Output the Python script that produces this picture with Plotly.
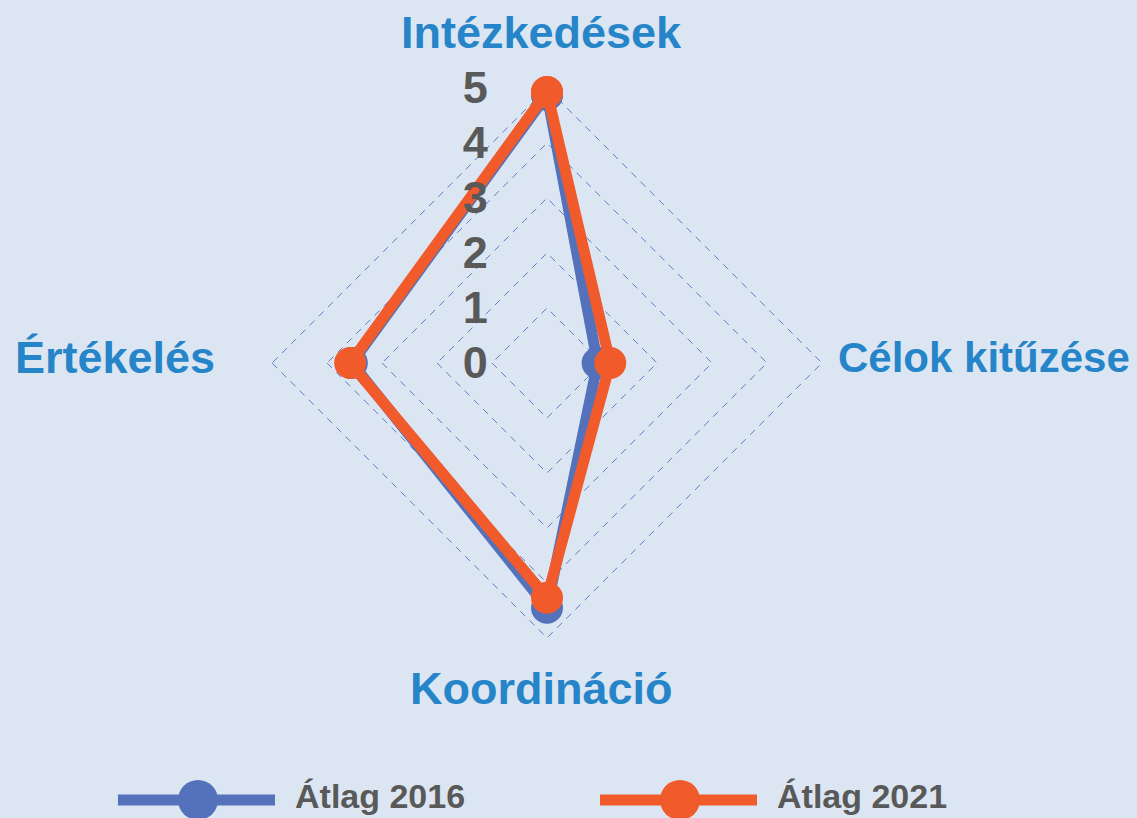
import plotly.graph_objects as go

# ---- data ----
categories = ["Intézkedések", "Célok kitűzése", "Koordináció", "Értékelés"]
series_names = ["Átlag 2016", "Átlag 2021"]
avg_2016 = [4.88, 0.92, 4.45, 3.55]
avg_2021 = [4.93, 1.15, 4.27, 3.58]
radial_ticks = [0, 1, 2, 3, 4, 5]

# ---- style ----
W, H = 1137, 818
BG = "#DCE6F2"
COLORS = ["#5472BC", "#F15A2B"]
CAT_COLOR = "#2685C8"
TXT_GRAY = "#595959"
FONT = "Liberation Sans"


def px(x):
    return x / W


def py(y):
    return 1 - y / H


fig = go.Figure()
for name, vals, col in zip(series_names, [avg_2016, avg_2021], COLORS):
    fig.add_trace(go.Scatterpolar(
        r=vals + vals[:1],
        theta=categories + categories[:1],
        mode="lines+markers",
        name=name,
        line=dict(color=col, width=11),
        marker=dict(color=col, size=32),
        showlegend=False,
    ))

cx, cy, R = 547, 363, 276
fig.update_layout(
    width=W, height=H,
    margin=dict(l=0, r=0, t=0, b=0),
    paper_bgcolor=BG,
    plot_bgcolor=BG,
    polar=dict(
        domain=dict(x=[px(cx - R), px(cx + R)], y=[py(cy + R), py(cy - R)]),
        bgcolor=BG,
        gridshape="linear",
        angularaxis=dict(
            rotation=90, direction="clockwise",
            categoryorder="array", categoryarray=categories,
            showgrid=False, showline=False, showticklabels=False, ticks="",
        ),
        radialaxis=dict(
            range=[0, 5.02], tickvals=radial_ticks, ticktext=[str(t) for t in radial_ticks],
            angle=90, side="counterclockwise", tickangle=90,
            showline=False,
            ticks="outside", ticklen=43, tickcolor="rgba(0,0,0,0)",
            tickfont=dict(family=FONT, size=45, color=TXT_GRAY, weight="bold"),
            gridcolor="#5F7CCB", griddash="7px,6px", gridwidth=1.3,
        ),
    ),
)

# category labels
cat_pos = [
    dict(x=541, y=33, xanchor="center", size=45),
    dict(x=836, y=357, xanchor="left", size=42),
    dict(x=541, y=688, xanchor="center", size=45),
    dict(x=13, y=358, xanchor="left", size=45),
]
for cat, p in zip(categories, cat_pos):
    fig.add_annotation(
        text=cat, x=px(p["x"]), y=py(p["y"]), xref="paper", yref="paper",
        xanchor=p["xanchor"], yanchor="middle", showarrow=False,
        font=dict(family=FONT, size=p["size"], color=CAT_COLOR, weight="bold"),
    )

# custom legend
for i, (name, col) in enumerate(zip(series_names, COLORS)):
    x0 = 118 + i * 482
    ly = 800
    fig.add_shape(type="line", xref="paper", yref="paper",
                  x0=px(x0), x1=px(x0 + 157), y0=py(ly), y1=py(ly),
                  line=dict(color=col, width=11))
    fig.add_shape(type="circle", xref="paper", yref="paper",
                  x0=px(x0 + 80 - 20), x1=px(x0 + 80 + 20),
                  y0=py(ly + 20), y1=py(ly - 20),
                  fillcolor=col, line=dict(color=col, width=0))
    fig.add_annotation(
        text=name, x=px(x0 + 175), y=py(796), xref="paper", yref="paper",
        xanchor="left", yanchor="middle", showarrow=False,
        font=dict(family=FONT, size=34, color=TXT_GRAY, weight="bold"),
    )

fig.write_html("out.html")
